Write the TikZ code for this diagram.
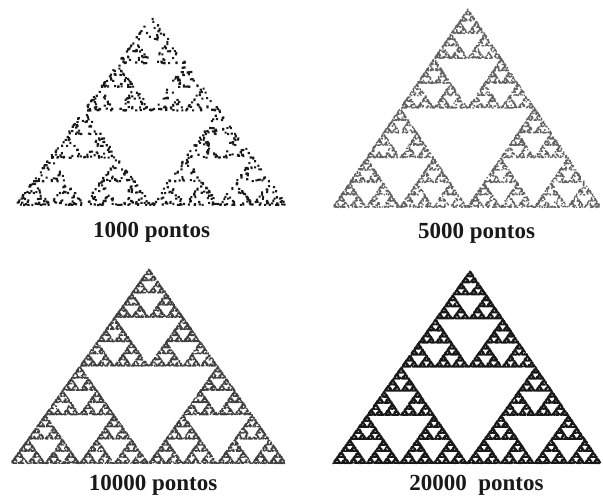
\documentclass[tikz,border=0pt]{standalone}
\usepackage{fontspec}
\setmainfont{Liberation Serif}
\makeatletter
\newcount\cg@seed \newcount\cg@q \newcount\cg@r \newcount\cg@n
\newdimen\cg@x \newdimen\cg@y \newdimen\cg@s
\newdimen\cg@ax \newdimen\cg@ay \newdimen\cg@bx \newdimen\cg@by \newdimen\cg@cx \newdimen\cg@cy
\cg@seed=987654\relax
\def\cg@rand{%
  \cg@q=\cg@seed \divide\cg@q by 127773\relax
  \cg@r=\cg@q \multiply\cg@r by -127773\relax \advance\cg@r by \cg@seed
  \cg@seed=\numexpr 16807*\cg@r-2836*\cg@q\relax
  \ifnum\cg@seed<0 \advance\cg@seed by 2147483647\relax\fi
  \cg@q=\cg@seed \divide\cg@q by 715827883\relax
}
% #1 points, #2 dot size, #3/#4 apex, #5 left x, #6 right x, #7 base y
\newcommand\chaosgame[7]{%
  \cg@s=#2pt\relax
  \cg@ax=\dimexpr #3pt-0.5\cg@s\relax \cg@ay=\dimexpr #4pt-\cg@s\relax
  \cg@bx=\dimexpr #5pt\relax \cg@by=\dimexpr #7pt\relax
  \cg@cx=\dimexpr #6pt-\cg@s\relax \cg@cy=\dimexpr #7pt\relax
  \cg@x=\cg@ax \cg@y=\cg@ay
  \cg@n=0\relax
  \loop
    \cg@rand
    \ifcase\cg@q
      \cg@x=\dimexpr(\cg@x+\cg@ax)/2\relax \cg@y=\dimexpr(\cg@y+\cg@ay)/2\relax
    \or
      \cg@x=\dimexpr(\cg@x+\cg@bx)/2\relax \cg@y=\dimexpr(\cg@y+\cg@by)/2\relax
    \else
      \cg@x=\dimexpr(\cg@x+\cg@cx)/2\relax \cg@y=\dimexpr(\cg@y+\cg@cy)/2\relax
    \fi
    \pgfsys@rect{\cg@x}{\cg@y}{\cg@s}{\cg@s}%
    \advance\cg@n by 1\relax
  \ifnum\cg@n<#1\relax
  \repeat
  \pgfsys@fill
}
\makeatother
\tikzset{
  lbl/.style={anchor=base, inner sep=0pt, font=\fontsize{23}{27}\selectfont\bfseries, text=black!90}
}
\begin{document}
\begin{tikzpicture}[x=1pt,y=1pt]
\useasboundingbox (0,0) rectangle (603,-499);
\fill[white] (0,0) rectangle (603,-499);
\begin{scope}\pgfsetfillcolor{black!90}\chaosgame{1000}{2.1}{152}{-15}{15}{288}{-206}\end{scope}
\begin{scope}\pgfsetfillcolor{black!62}\chaosgame{5000}{1.35}{468}{-8}{332}{602}{-208}\end{scope}
\begin{scope}\pgfsetfillcolor{black!75}\chaosgame{10000}{1.2}{149}{-268}{10}{287}{-464}\end{scope}
\begin{scope}\pgfsetfillcolor{black!90}\chaosgame{20000}{1.3}{470}{-270}{332}{602}{-464}\end{scope}
\node[lbl] (t1) at (151.5,-237) {1000 pontos};
\node[lbl] (t2) at (476.5,-238) {5000 pontos};
\node[lbl] (t3) at (153,-490) {10000 pontos};
\node[lbl] (t4) at (476.5,-490) {20000\ \ pontos};
\end{tikzpicture}
\end{document}
